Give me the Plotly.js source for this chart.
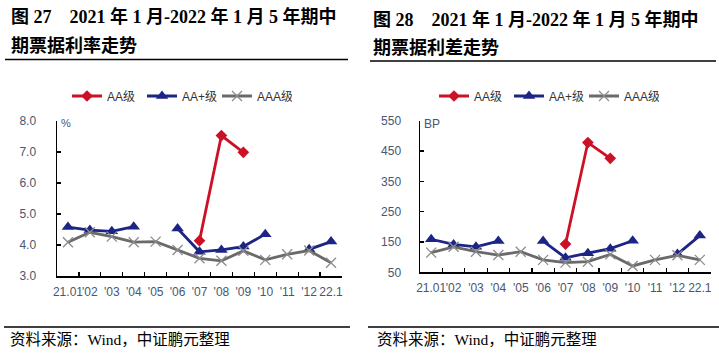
<!DOCTYPE html>
<html>
<head>
<meta charset="utf-8">
<script src="https://cdn.plot.ly/plotly-3.0.1.min.js"></script>
<style>
html,body{margin:0;padding:0;background:#fff;}
#chart{width:719px;height:354px;}
</style>
</head>
<body>
<div id="chart"></div>
<script>
// ---- data ----
const months = ["21.01", "'02", "'03", "'04", "'05", "'06", "'07", "'08", "'09", "'10", "'11", "'12", "22.1"];
const seriesNames = ["AA级", "AA+级", "AAA级"];

// 图27：5年期中期票据利率（%）
const rateAA     = [null, null, null, null, null, null, 4.14, 7.53, 6.99, null, null, null, null];
const rateAAplus = [4.58, 4.48, 4.44, 4.59, null, 4.53, 3.78, 3.84, 3.95, 4.35, null, 3.86, 4.11];
const rateAAA    = [4.09, 4.41, 4.27, 4.09, 4.11, 3.84, 3.57, 3.49, 3.81, 3.52, 3.70, 3.82, 3.43];

// 图28：5年期中期票据利差（BP）
const spreadAA     = [null, null, null, null, null, null, 143, 478, 426, null, null, null, null];
const spreadAAplus = [159, 142, 134, 153, null, 153, 98, 113, 128, 154, null, 110, 171];
const spreadAAA    = [115, 134, 118, 107, 118, 91, 82, 85, 109, 71, 91, 106, 91];

const rateTicks = [3, 4, 5, 6, 7, 8];
const spreadTicks = [50, 150, 250, 350, 450, 550];

// ---- styles ----
const W = 719, H = 354;
const px = v => v / W;
const py = v => 1 - v / H;
const RED = '#cc1126', NAVY = '#1c2585', GRAY = '#6a6a6a', XGRAY = '#8c8c8c';
const tickColor = '#4a5670';
const sansFont = 'Liberation Sans, Arial, Noto Sans CJK SC, sans-serif';
const serifFont = 'Liberation Serif, Times New Roman, Noto Sans CJK SC, serif';

function traces(aa, aap, aaa, xa, ya, lg) {
  return [
    {x: months, y: aa, name: seriesNames[0], type: 'scatter', mode: 'lines+markers',
     xaxis: xa, yaxis: ya, legend: lg, connectgaps: false,
     line: {color: RED, width: 2.8}, marker: {symbol: 'diamond', size: 9, color: RED}},
    {x: months, y: aap, name: seriesNames[1], type: 'scatter', mode: 'lines+markers',
     xaxis: xa, yaxis: ya, legend: lg, connectgaps: false,
     line: {color: NAVY, width: 2.8}, marker: {symbol: 'triangle-up', size: 11, color: NAVY}},
    {x: months, y: aaa, name: seriesNames[2], type: 'scatter', mode: 'lines+markers',
     xaxis: xa, yaxis: ya, legend: lg, connectgaps: false,
     line: {color: GRAY, width: 2.8}, marker: {symbol: 'x-thin', size: 10, line: {color: XGRAY, width: 1.3}, color: XGRAY}}
  ];
}

const data = [
  ...traces(rateAA, rateAAplus, rateAAA, 'x', 'y', 'legend'),
  ...traces(spreadAA, spreadAAplus, spreadAAA, 'x2', 'y2', 'legend2')
];

function xAxis(domain, anchor) {
  return {
    domain: domain, anchor: anchor, type: 'category', tickson: 'boundaries',
    range: [-0.5, 12.5], showgrid: false, zeroline: false,
    showline: true, linecolor: '#000', linewidth: 1.5,
    ticks: 'inside', ticklen: 4, tickcolor: '#000', tickwidth: 1.2,
    tickfont: {family: sansFont, size: 12, color: tickColor}, tickangle: 0,
    ticklabelstandoff: 4, automargin: false
  };
}
function yAxis(domain, anchor, range, ticks, fmt, standoff) {
  return {
    domain: domain, anchor: anchor, range: range, tickvals: ticks, tickformat: fmt,
    showgrid: false, zeroline: false, showline: true, linecolor: '#000', linewidth: 1.5,
    ticks: 'inside', ticklen: 4, tickcolor: '#000', tickwidth: 1.2,
    tickfont: {family: sansFont, size: 12, color: tickColor},
    ticklabelstandoff: standoff, automargin: false
  };
}

const legendBase = {
  orientation: 'h', yanchor: 'middle', xanchor: 'left',
  font: {family: sansFont, size: 12, color: '#333'},
  entrywidth: 30, entrywidthmode: 'pixels', bgcolor: 'rgba(0,0,0,0)', itemclick: false
};

const titleFont = {family: serifFont, size: 18, color: '#000', weight: 'bold'};
const srcFont = {family: serifFont, size: 15.5, color: '#000'};

const ann = (x, y, text, font) => ({
  xref: 'paper', yref: 'paper', x: px(x), y: py(y), xanchor: 'left', yanchor: 'middle',
  text: text, showarrow: false, font: font
});

const hline = (x0, x1, y) => ({
  type: 'line', xref: 'paper', yref: 'paper', x0: px(x0), x1: px(x1), y0: py(y), y1: py(y),
  line: {color: '#000', width: 1.5}
});

const layout = {
  width: W, height: H, margin: {l: 0, r: 0, t: 0, b: 0, autoexpand: false},
  paper_bgcolor: '#fff', plot_bgcolor: '#fff',
  showlegend: true,
  xaxis: xAxis([px(57), px(342)], 'y'),
  yaxis: yAxis([py(276), py(121)], 'x', [3, 8], rateTicks, '.1f', 17),
  xaxis2: xAxis([px(420), px(711)], 'y2'),
  yaxis2: yAxis([py(272.3), py(120.7)], 'x2', [50, 550], spreadTicks, 'd', 15),
  legend: Object.assign({x: px(67), y: py(96)}, legendBase),
  legend2: Object.assign({x: px(434), y: py(96)}, legendBase),
  annotations: [
    ann(9, 17, '图 27　2021 年 1 月-2022 年 1 月 5 年期中', titleFont),
    ann(9, 46, '期票据利率走势', titleFont),
    ann(371, 19, '图 28　2021 年 1 月-2022 年 1 月 5 年期中', titleFont),
    ann(371, 48, '期票据利差走势', titleFont),
    ann(59, 123, '%', {family: sansFont, size: 11, color: tickColor}),
    ann(422, 124, 'BP', {family: sansFont, size: 12, color: tickColor}),
    ann(8, 339, '资料来源：Wind，中证鹏元整理', srcFont),
    ann(375, 339, '资料来源：Wind，中证鹏元整理', srcFont)
  ],
  shapes: [
    hline(5, 348, 59.5),
    hline(370, 716, 61),
    hline(4, 350, 327),
    hline(368, 719, 327)
  ]
};

Plotly.newPlot('chart', data, layout, {staticPlot: true, displayModeBar: false});
</script>
</body>
</html>
